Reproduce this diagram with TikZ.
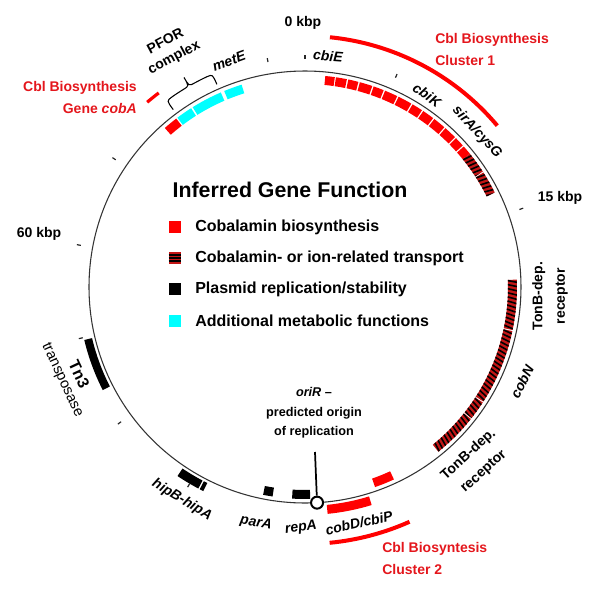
\documentclass[tikz,border=0pt]{standalone}
\usepackage{fontspec}
\setmainfont{Liberation Sans}

\definecolor{cblred}{RGB}{255,0,0}
\definecolor{cbltext}{RGB}{228,22,28}
\definecolor{transred}{RGB}{195,22,22}
\definecolor{metcyan}{RGB}{0,255,255}

\tikzset{
  plasmid/.style={draw=black!80, line width=0.8pt},
  kbptick/.style={draw=black!85, line width=0.9pt},
  clusterarc/.style={draw=cblred, line width=3pt},
  genename/.style={font=\fontsize{10.5}{12}\selectfont\bfseries\itshape, inner sep=0pt},
  kbpname/.style={font=\fontsize{10.5}{12}\selectfont\bfseries, inner sep=0pt},
  plainname/.style={font=\fontsize{10.5}{17}\selectfont\bfseries, inner sep=0pt, align=center},
  clustername/.style={font=\fontsize{10.5}{16.5}\selectfont\bfseries, text=cbltext, inner sep=0pt},
  legendkey/.style={minimum size=9pt, inner sep=0pt},
  legendname/.style={font=\fontsize{12}{14}\selectfont\bfseries, anchor=west, inner sep=0pt},
}

% gene box: #1 start, #2 end (degrees clockwise from 0 kbp), #3 inner, #4 outer radius, #5 fill
\newcommand{\genebox}[5]{%
  \fill[#5] ({90-#1}:#3) arc[start angle={90-#1}, end angle={90-#2}, radius=#3]
    -- ({90-#2}:#4) arc[start angle={90-#2}, end angle={90-#1}, radius=#4] -- cycle;}

% hatched transport gene: #1 start, #2 end
\newcommand{\hatchbox}[2]{%
  \begin{scope}
    \clip ({90-#1}:203) arc[start angle={90-#1}, end angle={90-#2}, radius=203]
      -- ({90-#2}:212) arc[start angle={90-#2}, end angle={90-#1}, radius=212] -- cycle;
    \fill[transred] (-300,-300) rectangle (300,300);
    \foreach \k in {0,...,24}
      \draw[black, line width=1.2pt] ({90-#1-\k*1.15}:200) -- ({90-#1-\k*1.15-0.9}:215);
  \end{scope}}

\begin{document}
\begin{tikzpicture}[x=0.75pt, y=0.75pt]
\useasboundingbox (-305,-307) rectangle (295,287);

% Drawing the plasmid
\draw[plasmid] (0,0) circle (216);

% Marking kbp ticks
\foreach \g in {0,23.38,70.13,210.39,233.77,257.14,280.52,303.9,350.65}
  \draw[kbptick] ({90-\g}:228) -- ({90-\g}:232);

% Drawing cluster arcs
\draw[clusterarc] (84.3:251) arc[start angle=84.3, end angle=40, radius=251];
\draw[clusterarc] (-66:257) arc[start angle=-66, end angle=-84.5, radius=257];
\draw[draw=cblred, line width=2.4pt] (130.5:243) arc[start angle=130.5, end angle=127, radius=243];

% Drawing cobalamin genes of cluster 1
\foreach \s/\e in {5.5/8.1, 8.4/11.4, 11.8/14.6, 15/18.5, 18.9/21.8, 22.2/25.8, 26.2/30.1,
    30.5/33.5, 33.9/37.2, 37.6/41.1, 41.5/45, 45.4/48.1, 48.5/51}
  \genebox{\s}{\e}{203}{212}{cblred};

% Drawing transport genes
\foreach \s/\e in {51/57, 57.3/63.5, 88/101.7, 102/122.7, 123/128.2, 128.5/141}
  \hatchbox{\s}{\e};

% Drawing genes of cluster 2
\genebox{155.2}{160.7}{203}{212}{cblred}
\genebox{163}{174.3}{219}{228}{cblred}

% Drawing replication genes
\genebox{178.6}{183.5}{203}{212}{black}
\genebox{188.8}{191.4}{203}{212}{black}
\genebox{206.5}{207.5}{219}{228}{black}
\genebox{207.9}{214}{219}{228}{black}
\genebox{243}{256.5}{219}{227}{black}

% Drawing cobA and metabolic genes
\genebox{318.6}{322.6}{203}{212}{cblred}
\genebox{323}{327.5}{203}{212}{metcyan}
\genebox{328}{336.6}{203}{212}{metcyan}
\genebox{337.6}{342.6}{203}{212}{metcyan}

% Drawing brace of PFOR complex
\draw[line width=0.8pt] (126.6:221) .. controls (126.6:232) .. (125:232)
  arc[start angle=125, end angle=121.5, radius=232] .. controls (120:232) .. (120:242)
  .. controls (120:232) .. (118.5:232)
  arc[start angle=118.5, end angle=115, radius=232] .. controls (113.5:232) .. (113.5:221);

% Marking origin of replication
\coordinate (oritop) at (10,-165);
\node[circle, draw, fill=white, line width=1.5pt, minimum size=9pt, inner sep=0pt] (orimark) at (-86.8:216) {};
\draw[line width=1.3pt] (oritop) -- (orimark);
\node[font=\fontsize{9.5}{14.6}\selectfont\bfseries, align=center, inner sep=0pt] (orilbl) at (9,-126)
  {\textit{oriR} --\\predicted origin\\of replication};

% Marking kbp labels
\node[kbpname] (kbp0) at (-2,264) {0 kbp};
\node[kbpname] (kbp15) at (255,89) {15 kbp};
\node[kbpname] (kbp60) at (-266,53) {60 kbp};

% Marking cluster labels
\node[clustername, anchor=west, align=left] (clus1) at (130,238) {Cbl Biosynthesis\\Cluster 1};
\node[clustername, anchor=west, align=left] (clus2) at (77,-271) {Cbl Biosyntesis\\Cluster 2};
\node[clustername, anchor=east, align=right] (cobalbl) at (-168,190) {Cbl Biosynthesis\\Gene \textit{cobA}};

% Marking gene labels
\node[genename, rotate=-4] (cbiE) at (23,231) {cbiE};
\node[genename, rotate=-35] (cbiK) at (122,192) {cbiK};
\node[genename, rotate=-47] (sirA) at (172,155) {sirA/cysG};
\node[genename, rotate=20] (metE) at (-76,226) {metE};
\node[font=\fontsize{10.5}{13.7}\selectfont\bfseries, align=center, inner sep=0pt, rotate=28] (pfor) at (-135,237) {PFOR\\complex};
\node[plainname, rotate=90] (tonb1) at (245,-9) {TonB-dep.\\receptor};
\node[genename, rotate=63] (cobN) at (217,-95) {cobN};
\node[plainname, rotate=42] (tonb2) at (171,-176) {TonB-dep.\\receptor};
\node[genename, rotate=13] (cobD) at (54,-236) {cobD/cbiP};
\node[genename, rotate=8] (repA) at (-4,-241) {repA};
\node[genename, rotate=-10] (parA) at (-49,-236) {parA};
\node[genename, rotate=-31] (hipB) at (-123,-213) {hipB-hipA};
\node[font=\fontsize{12}{14}\selectfont\bfseries, rotate=-65, inner sep=0pt] (tn3) at (-226,-87) {Tn3};
\node[font=\fontsize{11}{13}\selectfont, rotate=-65, inner sep=0pt] (transp) at (-243,-93) {transposase};

% Drawing legend
\node[font=\fontsize{16}{19}\selectfont\bfseries, inner sep=0pt] (title) at (-15,97) {Inferred Gene Function};
\node[legendkey, fill=cblred] (keybio) at (-130,60) {};
\node[legendname] (txtbio) at (-110,60) {Cobalamin biosynthesis};
\node[legendkey, fill=transred] (keytrans) at (-130,29) {};
\foreach \dy in {-2.3,0,2.3}
  \draw[black, line width=1pt] ([yshift=\dy pt]keytrans.west) -- ([yshift=\dy pt]keytrans.east);
\node[legendname] (txttrans) at (-110,29) {Cobalamin- or ion-related transport};
\node[legendkey, fill=black] (keyrep) at (-130,-2) {};
\node[legendname] (txtrep) at (-110,-2) {Plasmid replication/stability};
\node[legendkey, fill=metcyan] (keymet) at (-130,-34) {};
\node[legendname] (txtmet) at (-110,-34) {Additional metabolic functions};
\end{tikzpicture}
\end{document}
